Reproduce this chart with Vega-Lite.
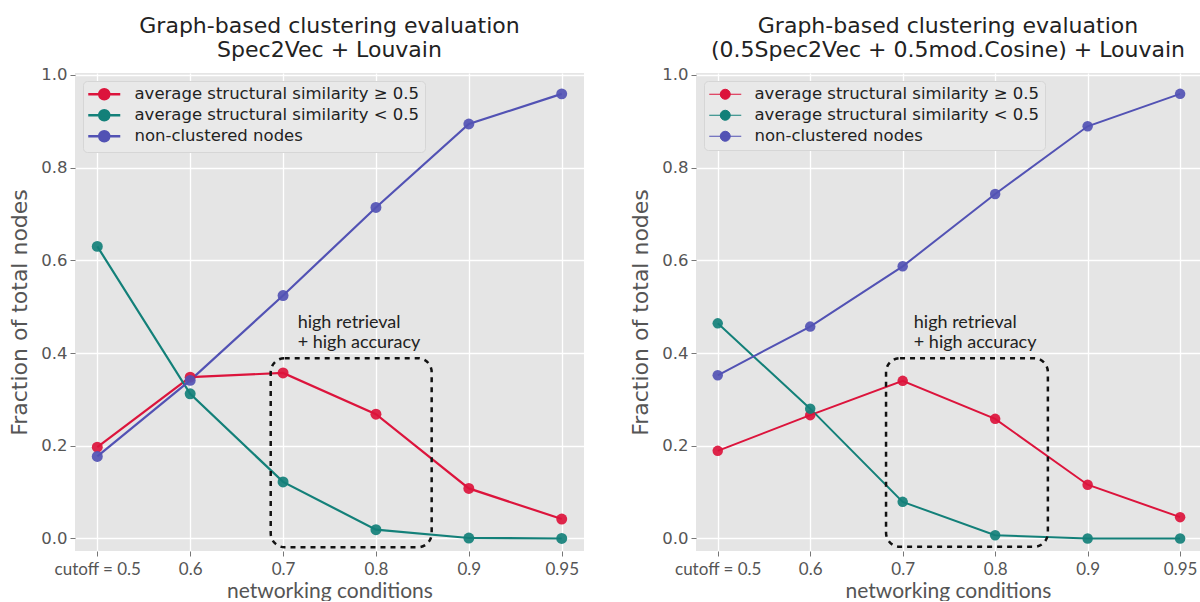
{
  "$schema": "https://vega.github.io/schema/vega-lite/v6.json",
  "background": "white",
  "padding": {"left": 8, "top": 14, "right": 0, "bottom": 0},
  "spacing": 45,
  "datasets": {
    "series": [
      {"panel": "A", "idx": 0, "series": "average structural similarity ≥ 0.5", "value": 0.197},
      {"panel": "A", "idx": 1, "series": "average structural similarity ≥ 0.5", "value": 0.348},
      {"panel": "A", "idx": 2, "series": "average structural similarity ≥ 0.5", "value": 0.357},
      {"panel": "A", "idx": 3, "series": "average structural similarity ≥ 0.5", "value": 0.268},
      {"panel": "A", "idx": 4, "series": "average structural similarity ≥ 0.5", "value": 0.108},
      {"panel": "A", "idx": 5, "series": "average structural similarity ≥ 0.5", "value": 0.042},
      {"panel": "A", "idx": 0, "series": "average structural similarity < 0.5", "value": 0.630},
      {"panel": "A", "idx": 1, "series": "average structural similarity < 0.5", "value": 0.312},
      {"panel": "A", "idx": 2, "series": "average structural similarity < 0.5", "value": 0.122},
      {"panel": "A", "idx": 3, "series": "average structural similarity < 0.5", "value": 0.019},
      {"panel": "A", "idx": 4, "series": "average structural similarity < 0.5", "value": 0.001},
      {"panel": "A", "idx": 5, "series": "average structural similarity < 0.5", "value": 0.0},
      {"panel": "A", "idx": 0, "series": "non-clustered nodes", "value": 0.177},
      {"panel": "A", "idx": 1, "series": "non-clustered nodes", "value": 0.341},
      {"panel": "A", "idx": 2, "series": "non-clustered nodes", "value": 0.524},
      {"panel": "A", "idx": 3, "series": "non-clustered nodes", "value": 0.714},
      {"panel": "A", "idx": 4, "series": "non-clustered nodes", "value": 0.894},
      {"panel": "A", "idx": 5, "series": "non-clustered nodes", "value": 0.959},
      {"panel": "B", "idx": 0, "series": "average structural similarity ≥ 0.5", "value": 0.189},
      {"panel": "B", "idx": 1, "series": "average structural similarity ≥ 0.5", "value": 0.266},
      {"panel": "B", "idx": 2, "series": "average structural similarity ≥ 0.5", "value": 0.340},
      {"panel": "B", "idx": 3, "series": "average structural similarity ≥ 0.5", "value": 0.258},
      {"panel": "B", "idx": 4, "series": "average structural similarity ≥ 0.5", "value": 0.116},
      {"panel": "B", "idx": 5, "series": "average structural similarity ≥ 0.5", "value": 0.046},
      {"panel": "B", "idx": 0, "series": "average structural similarity < 0.5", "value": 0.464},
      {"panel": "B", "idx": 1, "series": "average structural similarity < 0.5", "value": 0.280},
      {"panel": "B", "idx": 2, "series": "average structural similarity < 0.5", "value": 0.079},
      {"panel": "B", "idx": 3, "series": "average structural similarity < 0.5", "value": 0.007},
      {"panel": "B", "idx": 4, "series": "average structural similarity < 0.5", "value": 0.0},
      {"panel": "B", "idx": 5, "series": "average structural similarity < 0.5", "value": 0.0},
      {"panel": "B", "idx": 0, "series": "non-clustered nodes", "value": 0.352},
      {"panel": "B", "idx": 1, "series": "non-clustered nodes", "value": 0.457},
      {"panel": "B", "idx": 2, "series": "non-clustered nodes", "value": 0.587},
      {"panel": "B", "idx": 3, "series": "non-clustered nodes", "value": 0.743},
      {"panel": "B", "idx": 4, "series": "non-clustered nodes", "value": 0.889},
      {"panel": "B", "idx": 5, "series": "non-clustered nodes", "value": 0.959}
    ],
    "box": [
      {"panel": "A", "idx": 1.867, "idx2": 3.6, "value": -0.019, "value2": 0.389},
      {"panel": "B", "idx": 1.82, "idx2": 3.57, "value": -0.018, "value2": 0.389}
    ],
    "note": [
      {"panel": "A", "idx": 2.157, "value": 0.465, "label": "high retrieval"},
      {"panel": "A", "idx": 2.157, "value": 0.422, "label": "+ high accuracy"},
      {"panel": "B", "idx": 2.12, "value": 0.465, "label": "high retrieval"},
      {"panel": "B", "idx": 2.12, "value": 0.422, "label": "+ high accuracy"}
    ]
  },
  "resolve": {
    "scale": {"x": "independent", "y": "independent", "color": "independent"},
    "axis": {"x": "independent", "y": "independent"},
    "legend": {"color": "independent"}
  },
  "hconcat": [
    {
      "width": 509,
      "height": 478,
      "title": {"text": ["Graph-based clustering evaluation", "Spec2Vec + Louvain"]},
      "encoding": {
        "x": {"field": "idx", "type": "quantitative",
          "scale": {"domain": [-0.24, 5.24], "nice": false, "zero": false},
          "axis": {"values": [0, 1, 2, 3, 4, 5], "labelExpr": "datum.value == 0 ? 'cutoff = 0.5' : datum.value == 1 ? '0.6' : datum.value == 2 ? '0.7' : datum.value == 3 ? '0.8' : datum.value == 4 ? '0.9' : '0.95'", "title": "networking conditions"}},
        "y": {"field": "value", "type": "quantitative",
          "scale": {"domain": [-0.027, 1.004], "nice": false, "zero": false},
          "axis": {"values": [0, 0.2, 0.4, 0.6, 0.8, 1.0], "format": ".1f", "title": "Fraction of total nodes"}}
      },
      "layer": [
        {
          "data": {"name": "series"},
          "transform": [{"filter": "datum.panel === 'A'"}],
          "encoding": {
            "color": {"field": "series", "type": "nominal",
              "scale": {"domain": ["average structural similarity ≥ 0.5", "average structural similarity < 0.5", "non-clustered nodes"], "range": ["#dc143c", "#138079", "#5252b4"]},
              "legend": {"orient": "top-left", "offset": 8, "title": null, "symbolType": "M-3.2,0H3.2M1,0A1,1,0,1,1,-1,0A1,1,0,1,1,1,0", "symbolSize": 100, "symbolOffset": 8, "labelOffset": 22, "rowPadding": 0,
                "encode": {"symbols": {"update": {
                  "fill": {"signal": "datum.value === 'non-clustered nodes' ? '#5252b4' : datum.value === 'average structural similarity < 0.5' ? '#138079' : '#dc143c'"},
                  "stroke": {"signal": "datum.value === 'non-clustered nodes' ? '#5252b4' : datum.value === 'average structural similarity < 0.5' ? '#138079' : '#dc143c'"},
                  "strokeWidth": {"value": 2.5}, "opacity": {"value": 1}, "fillOpacity": {"value": 1}, "strokeOpacity": {"value": 1}}}}}}
          },
          "layer": [
            {"mark": {"type": "line", "strokeWidth": 2.2}},
            {"mark": {"type": "point", "filled": true, "size": 120, "opacity": 0.92}}
          ]
        },
        {
          "data": {"name": "box"},
          "transform": [{"filter": "datum.panel === 'A'"}],
          "mark": {"type": "rect", "cornerRadius": 14, "fill": "transparent", "stroke": "#111111", "strokeWidth": 2.5, "strokeDash": [5, 5]},
          "encoding": {
            "x2": {"field": "idx2"},
            "y2": {"field": "value2"}
          }
        },
        {
          "data": {"name": "note"},
          "transform": [{"filter": "datum.panel === 'A'"}],
          "mark": {"type": "text", "align": "left", "baseline": "middle", "font": "Lato", "fontSize": 18, "color": "#222222"},
          "encoding": {
            "text": {"field": "label"}
          }
        }
      ]
    },
    {
      "width": 504,
      "height": 478,
      "title": {"text": ["Graph-based clustering evaluation", "(0.5Spec2Vec + 0.5mod.Cosine) + Louvain"]},
      "encoding": {
        "x": {"field": "idx", "type": "quantitative",
          "scale": {"domain": [-0.235, 5.215], "nice": false, "zero": false},
          "axis": {"values": [0, 1, 2, 3, 4, 5], "labelExpr": "datum.value == 0 ? 'cutoff = 0.5' : datum.value == 1 ? '0.6' : datum.value == 2 ? '0.7' : datum.value == 3 ? '0.8' : datum.value == 4 ? '0.9' : '0.95'", "title": "networking conditions"}},
        "y": {"field": "value", "type": "quantitative",
          "scale": {"domain": [-0.027, 1.004], "nice": false, "zero": false},
          "axis": {"values": [0, 0.2, 0.4, 0.6, 0.8, 1.0], "format": ".1f", "title": "Fraction of total nodes"}}
      },
      "layer": [
        {
          "data": {"name": "series"},
          "transform": [{"filter": "datum.panel === 'B'"}],
          "encoding": {
            "color": {"field": "series", "type": "nominal",
              "scale": {"domain": ["average structural similarity ≥ 0.5", "average structural similarity < 0.5", "non-clustered nodes"], "range": ["#dc143c", "#138079", "#5252b4"]},
              "legend": {"orient": "top-left", "offset": 8, "title": null, "symbolType": "M-3.2,0H3.2M1,0A1,1,0,1,1,-1,0A1,1,0,1,1,1,0", "symbolSize": 100, "symbolOffset": 8, "labelOffset": 21, "rowPadding": 4,
                "encode": {"symbols": {"update": {
                  "fill": {"signal": "datum.value === 'non-clustered nodes' ? '#5252b4' : datum.value === 'average structural similarity < 0.5' ? '#138079' : '#dc143c'"},
                  "stroke": {"signal": "datum.value === 'non-clustered nodes' ? '#5252b4' : datum.value === 'average structural similarity < 0.5' ? '#138079' : '#dc143c'"},
                  "strokeWidth": {"value": 1}, "opacity": {"value": 1}, "fillOpacity": {"value": 1}, "strokeOpacity": {"value": 1}}}}}}
          },
          "layer": [
            {"mark": {"type": "line", "strokeWidth": 2}},
            {"mark": {"type": "point", "filled": true, "size": 110, "opacity": 0.92}}
          ]
        },
        {
          "data": {"name": "box"},
          "transform": [{"filter": "datum.panel === 'B'"}],
          "mark": {"type": "rect", "cornerRadius": 14, "fill": "transparent", "stroke": "#111111", "strokeWidth": 2.5, "strokeDash": [5, 5]},
          "encoding": {
            "x2": {"field": "idx2"},
            "y2": {"field": "value2"}
          }
        },
        {
          "data": {"name": "note"},
          "transform": [{"filter": "datum.panel === 'B'"}],
          "mark": {"type": "text", "align": "left", "baseline": "middle", "font": "Lato", "fontSize": 18, "color": "#222222"},
          "encoding": {
            "text": {"field": "label"}
          }
        }
      ]
    }
  ],
  "config": {
    "view": {"fill": "#e5e5e5", "stroke": null},
    "axis": {
      "grid": true, "gridColor": "#ffffff", "gridWidth": 1.3, "domain": false,
      "tickColor": "#777777", "tickSize": 5, "tickWidth": 1,
      "labelColor": "#555555", "labelFont": "DejaVu Sans", "labelFontSize": 16.5,
      "labelFlush": false, "labelOverlap": false, "labelBound": false,
      "titleColor": "#555555", "titleFont": "DejaVu Sans", "titleFontSize": 22, "titleFontWeight": "normal"
    },
    "axisX": {"labelFont": "Lato", "labelFontSize": 17, "labelPadding": 5, "titleFont": "Lato", "titleFontSize": 21, "titlePadding": 3},
    "axisY": {"labelPadding": 3, "titlePadding": 9},
    "legend": {
      "fillColor": "#e9e9e9", "strokeColor": "#d6d6d6", "cornerRadius": 4, "padding": 5,
      "labelFont": "DejaVu Sans", "labelFontSize": 16.5, "labelColor": "#222222", "labelLimit": 400
    },
    "title": {"font": "DejaVu Sans", "fontSize": 22, "fontWeight": "normal", "color": "#222222", "lineHeight": 24, "offset": 5, "anchor": "middle"}
  }
}
